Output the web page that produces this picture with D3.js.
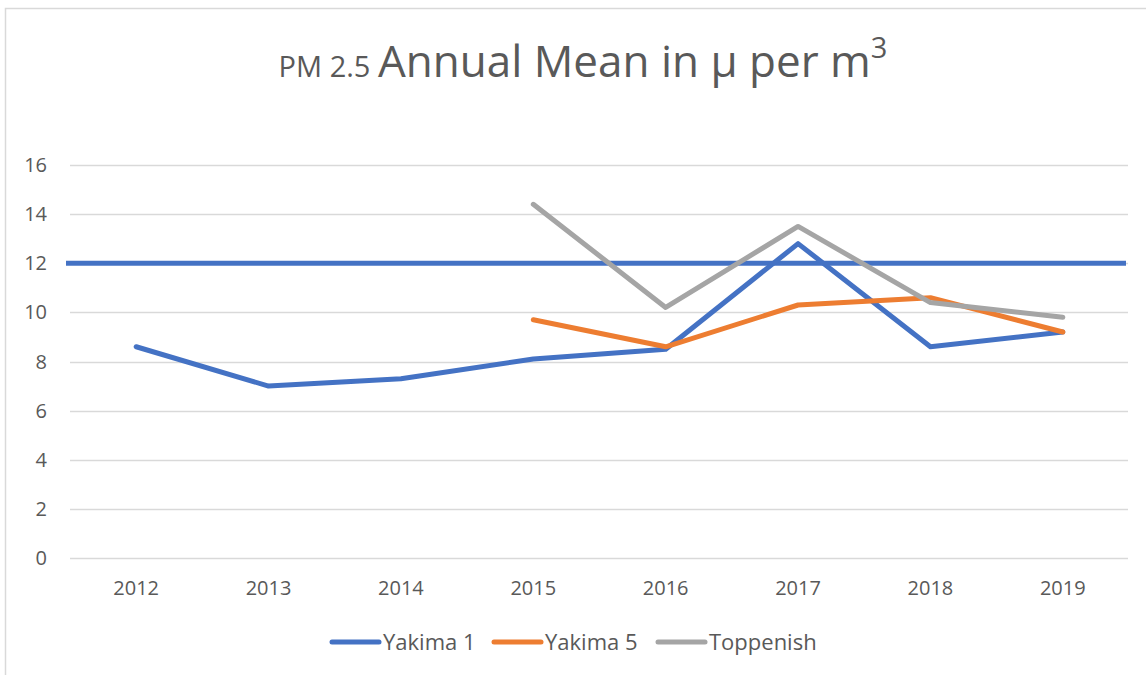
<!doctype html>
<html>
  <head>
    <meta charset="utf-8">
    <title>PM 2.5 Annual Mean</title>
    <script src="https://cdnjs.cloudflare.com/ajax/libs/d3/7.8.5/d3.min.js"></script>
    <style>
      body { margin: 0; background: #fff; }
      text { font-family: "Open Sans", "Noto Sans", sans-serif; fill: #595959; }
    </style>
  </head>
  <body>
    <div id="chart"></div>
    <script>
      // data
      const years = ['2012', '2013', '2014', '2015', '2016', '2017', '2018', '2019'];
      const yakima1 = [8.6, 7.0, 7.3, 8.1, 8.5, 12.8, 8.6, 9.2];
      const yakima5 = [null, null, null, 9.7, 8.6, 10.3, 10.6, 9.2];
      const toppenish = [null, null, null, 14.4, 10.2, 13.5, 10.4, 9.8];
      const seriesNames = ['Yakima 1', 'Yakima 5', 'Toppenish'];
      const seriesColors = ['#4472c4', '#ed7d31', '#a5a5a5'];
      const yTicks = [0, 2, 4, 6, 8, 10, 12, 14, 16];
      const standard = 12;

      const W = 1146, H = 675;
      const svg = d3.select('#chart').append('svg')
        .attr('width', W).attr('height', H);

      // chart border
      svg.append('rect')
        .attr('x', 5.5).attr('y', 8.5)
        .attr('width', 1200).attr('height', 700)
        .attr('fill', 'none').attr('stroke', '#d9d9d9').attr('stroke-width', 1.5);

      const x = d3.scaleBand().domain(years).range([70, 1129]);
      const y = d3.scaleLinear().domain([0, 16]).range([558, 165]);

      // gridlines
      svg.append('g').selectAll('line')
        .data(yTicks)
        .join('line')
        .attr('x1', 70).attr('x2', 1128)
        .attr('y1', d => Math.round(y(d)) + 0.5)
        .attr('y2', d => Math.round(y(d)) + 0.5)
        .attr('stroke', '#d9d9d9').attr('stroke-width', 1.5);

      // y labels
      svg.append('g').selectAll('text')
        .data(yTicks)
        .join('text')
        .attr('x', 47).attr('y', d => y(d))
        .attr('dy', '0.35em')
        .attr('text-anchor', 'end')
        .style('font-size', '20px')
        .text(d => d);

      // x labels
      svg.append('g').selectAll('text')
        .data(years)
        .join('text')
        .attr('x', d => x(d) + x.bandwidth() / 2)
        .attr('y', 595)
        .attr('text-anchor', 'middle')
        .style('font-size', '20px')
        .text(d => d);

      // standard line at 12
      svg.append('line')
        .attr('x1', 66).attr('x2', 1126)
        .attr('y1', y(standard)).attr('y2', y(standard))
        .attr('stroke', '#4472c4').attr('stroke-width', 5);

      // series
      const line = d3.line()
        .defined(d => d[1] != null)
        .x(d => x(d[0]) + x.bandwidth() / 2)
        .y(d => y(d[1]));

      const allSeries = [yakima1, yakima5, toppenish];
      allSeries.forEach(function(vals, i) {
        svg.append('path')
          .datum(years.map((yr, j) => [yr, vals[j]]))
          .attr('d', line)
          .attr('fill', 'none')
          .attr('stroke', seriesColors[i])
          .attr('stroke-width', 5)
          .attr('stroke-linejoin', 'round')
          .attr('stroke-linecap', 'round');
      });

      // title
      const title = svg.append('text')
        .attr('x', 583).attr('y', 77)
        .attr('text-anchor', 'middle');
      title.append('tspan').style('font-size', '29px').text('PM 2.5 ');
      title.append('tspan').style('font-size', '44px').text('Annual Mean in µ per m');
      title.append('tspan').style('font-size', '29px').attr('dy', -19).text('3');

      // legend
      const legendX = [330, 492, 656];
      const legend = svg.append('g').selectAll('g')
        .data(seriesNames)
        .join('g')
        .attr('transform', (d, i) => 'translate(' + legendX[i] + ',642)');
      legend.append('line')
        .attr('x1', 2).attr('x2', 49)
        .attr('stroke', (d, i) => seriesColors[i])
        .attr('stroke-width', 5)
        .attr('stroke-linecap', 'round');
      legend.append('text')
        .attr('x', 53).attr('dy', '0.35em')
        .style('font-size', '22px')
        .text(d => d);
    </script>
  </body>
</html>
